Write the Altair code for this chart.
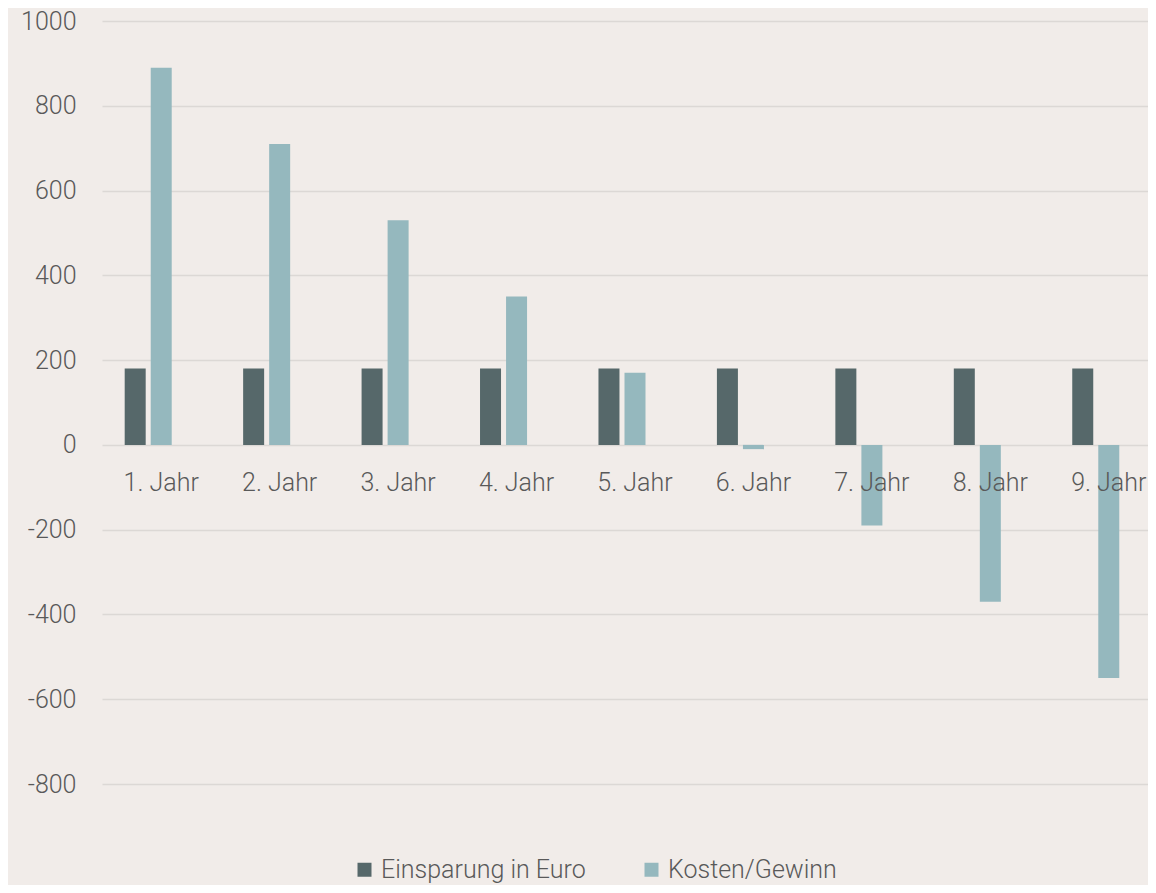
import altair as alt
import pandas as pd

categories = ["1. Jahr", "2. Jahr", "3. Jahr", "4. Jahr", "5. Jahr", "6. Jahr", "7. Jahr", "8. Jahr", "9. Jahr"]
einsparung = [180, 180, 180, 180, 180, 180, 180, 180, 180]
kosten = [890, 710, 530, 350, 170, -10, -190, -370, -550]
series_names = ["Einsparung in Euro", "Kosten/Gewinn"]
colors = ["#56686A", "#95B8BE"]

rows = []
for c, e, k in zip(categories, einsparung, kosten):
    rows.append({"cat": c, "series": series_names[0], "value": e})
    rows.append({"cat": c, "series": series_names[1], "value": k})
df = pd.DataFrame(rows)
lab = pd.DataFrame({"cat": categories, "zero": [0] * len(categories)})

FONT = "Roboto"
TXT = "#595959"
FS = 25

xscale = alt.Scale(domain=categories, range=[0, 1066], paddingInner=0.383, paddingOuter=0.1915)

bars = alt.Chart(df).mark_bar(size=21).encode(
    x=alt.X("cat:N", scale=xscale, axis=None, sort=categories),
    xOffset=alt.XOffset("series:N", scale=alt.Scale(domain=series_names + ["_"], paddingInner=0.1923, paddingOuter=0)),
    y=alt.Y("value:Q", scale=alt.Scale(domain=[-800, 1000], nice=False),
            axis=alt.Axis(values=list(range(-800, 1001, 200)), title=None, domain=False, ticks=False,
                          labelExpr="'' + datum.value",
                          labelFontSize=FS, labelFont=FONT, labelFontWeight=300, labelColor=TXT,
                          labelPadding=26, grid=True, gridColor="#DCD8D5", gridWidth=1.5)),
    color=alt.Color("series:N", scale=alt.Scale(domain=series_names, range=colors),
                    legend=alt.Legend(title=None, orient="none", direction="horizontal",
                                      legendX=250, legendY=836, symbolType="square", symbolSize=196,
                                      symbolStrokeWidth=0, labelFontSize=FS, labelFont=FONT,
                                      labelFontWeight=300, labelColor=TXT, columnPadding=53,
                                      labelOffset=4, labelLimit=0)),
)

labels = alt.Chart(lab).mark_text(fontSize=FS, font=FONT, fontWeight=300, color=TXT, dy=38).encode(
    x=alt.X("cat:N", scale=xscale, sort=categories),
    y=alt.Y("zero:Q"),
    text="cat:N",
)

chart = alt.layer(bars, labels).properties(
    width=1046, height=763,
    autosize=alt.AutoSizeParams(type="none"),
    padding={"left": 94, "top": 13, "right": 0, "bottom": 101},
    background="#F1ECE9",
).configure_view(stroke=None)

chart.save("out.html", embed_options={"renderer": "svg", "actions": False})
